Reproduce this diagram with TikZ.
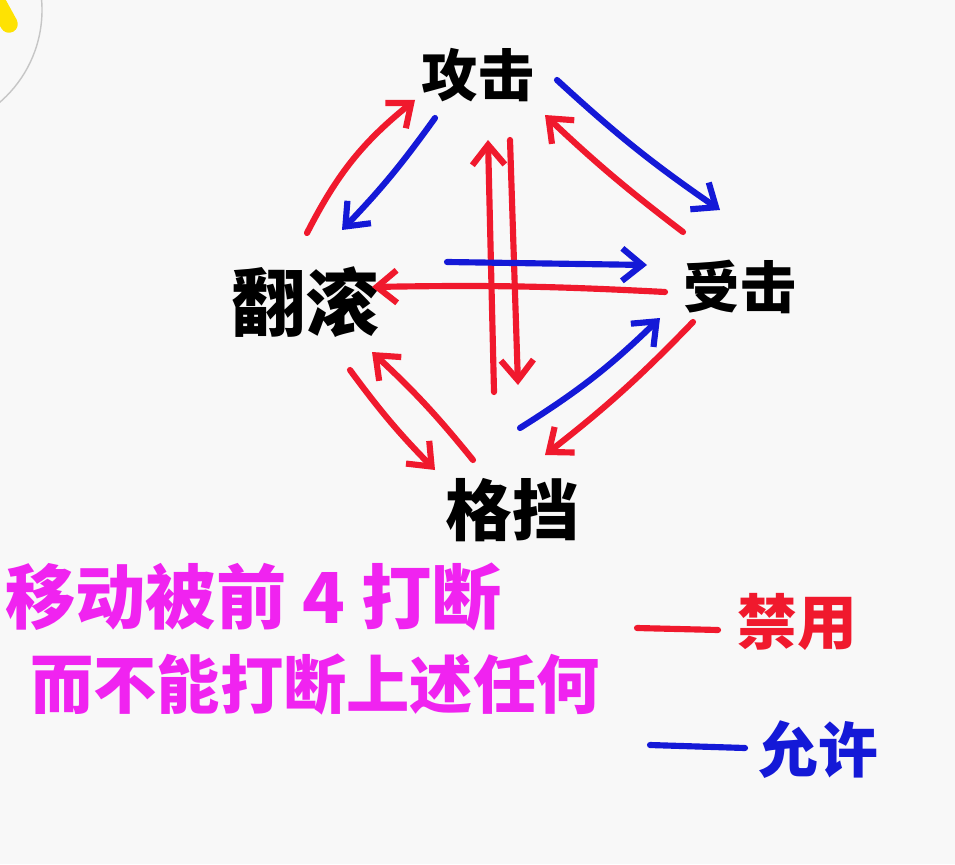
\documentclass[tikz,border=0pt]{standalone}
\usepackage{fontspec}
\newfontfamily\cjk{Noto Sans CJK SC}
\usetikzlibrary{arrows.meta,calc}
\definecolor{paper}{RGB}{248,248,248}
\definecolor{penred}{RGB}{240,25,45}
\definecolor{penblue}{RGB}{20,25,215}
\definecolor{penpink}{RGB}{240,35,240}

\tikzset{
    state/.style={font=\cjk\bfseries\fontsize{32}{32}\selectfont, inner sep=0pt},
    note/.style={penpink, anchor=west, inner sep=0pt},
    key/.style={font=\cjk\bfseries\fontsize{34}{34}\selectfont, inner sep=0pt},
    pen/.style={line width=3.5pt, line cap=round, line join=round},
    ban/.style={pen, penred, -{Straight Barb[length=4mm,width=6.5mm]}},
    allow/.style={pen, penblue, -{Straight Barb[length=4mm,width=6.5mm]}},
}

\begin{document}
\begin{tikzpicture}[x=0.02cm, y=-0.02cm]

            % Paper
            \fill[paper] (0,0) rectangle (955,864);
            \useasboundingbox (0,0) rectangle (955,864);

            % Screen corner
            \begin{scope}
                \clip (0,0) rectangle (955,864);
                \draw[gray!45, line width=0.8pt] (-80,10) circle (122);
                \draw[yellow!85!orange, line width=10pt, line cap=round] (-2,4) -- (9,24);
            \end{scope}

            % States
            \node[state] (atk) at (478,75) {攻击};
            \node[state, font=\cjk\bfseries\fontsize{42}{42}\selectfont] (rol) at (305,302) {翻滚};
            \node[state] (hit) at (740,287) {受击};
            \node[state, font=\cjk\bfseries\fontsize{38}{38}\selectfont] (blk) at (512,510) {格挡};

            % Attack <-> roll
            \draw[ban] ([shift={(2,-69)}]rol.center) to[bend left=12] ([shift={(-63,25)}]atk.center);
            \draw[allow] ([shift={(-43,43)}]atk.center) to[bend left=4] ([shift={(37,-72)}]rol.center);

            % Attack <-> hit
            \draw[allow] ([shift={(79,5)}]atk.center) to[bend right=4] ([shift={(-20,-77)}]hit.center);
            \draw[ban] ([shift={(-57,-55)}]hit.center) to[bend left=3] ([shift={(67,40)}]atk.center);

            % Attack <-> block
            \draw[ban] ([shift={(-18,-118)}]blk.center) -- ([shift={(10,65)}]atk.center);
            \draw[ban] ([shift={(32,65)}]atk.center) -- ([shift={(6,-125)}]blk.center);

            % Roll <-> hit
            \draw[allow] ([shift={(142,-40)}]rol.center) -- ([shift={(-93,-22)}]hit.center);
            \draw[ban] ([shift={(-75,5)}]hit.center) to[bend right=2] ([shift={(67,-15)}]rol.center);

            % Roll <-> block
            \draw[ban] ([shift={(45,68)}]rol.center) to[bend right=4] ([shift={(-77,-40)}]blk.center);
            \draw[ban] ([shift={(-39,-50)}]blk.center) to[bend right=4] ([shift={(67,50)}]rol.center);

            % Hit <-> block
            \draw[allow] ([shift={(8,-82)}]blk.center) to[bend right=6] ([shift={(-80,31)}]hit.center);
            \draw[ban] ([shift={(-47,35)}]hit.center) to[bend left=4] ([shift={(33,-55)}]blk.center);

            % Note
            \node[note, font=\cjk\bfseries\fontsize{40}{40}\selectfont] (note1) at (5,597) {移动被前 4 打断};
            \node[note, font=\cjk\bfseries\fontsize{36}{36}\selectfont] (note2) at (30,685) {而不能打断上述任何};

            % Legend
            \coordinate (banA) at (637,628);
            \coordinate (banB) at (718,630);
            \draw[pen, penred] (banA) -- (banB);
            \node[key, penred] (banlbl) at (797,622) {禁用};

            \coordinate (allowA) at (650,745);
            \coordinate (allowB) at (745,748);
            \draw[pen, penblue] (allowA) -- (allowB);
            \node[key, penblue] (allowlbl) at (818,750) {允许};

        \end{tikzpicture}
\end{document}
